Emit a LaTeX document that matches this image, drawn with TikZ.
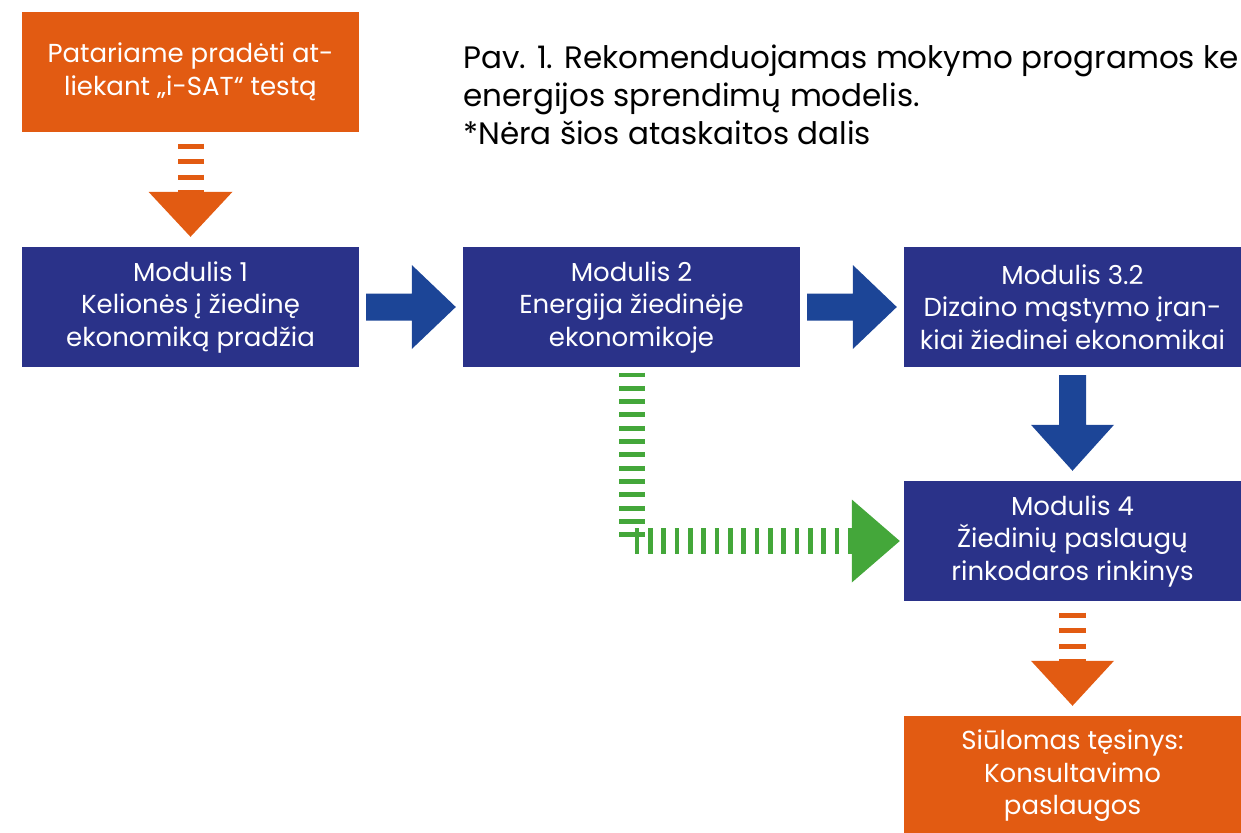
\documentclass[tikz,border=0pt]{standalone}
\usepackage{fontspec}
\setmainfont{Poppins}
\usetikzlibrary{calc}
\definecolor{orng}{HTML}{E25B12}
\definecolor{navy}{HTML}{2A3289}
\definecolor{arrblue}{HTML}{1C4597}
\definecolor{grn}{HTML}{44A73A}
\tikzset{
  box/.style={minimum width=337pt, minimum height=120pt, inner sep=0pt, align=center, text=white,
    font=\fontsize{26}{32.5}\selectfont},
  modbox/.style={box, fill=navy},
  obox/.style={box, fill=orng},
  barrow/.style={fill=arrblue},
}
\newcommand\blockR[2]{\fill[barrow] ($(#1)+(0,-13.5)$) -- ($(#2)+(-44,-13.5)$) -- ($(#2)+(-44,-42)$) -- (#2) -- ($(#2)+(-44,42)$) -- ($(#2)+(-44,13.5)$) -- ($(#1)+(0,13.5)$) -- cycle;}
\begin{document}
\begin{tikzpicture}[x=1pt,y=-1pt]
\useasboundingbox (0,0) rectangle (1241,832);
\clip (0,0) rectangle (1241,832);
\node[obox] (start) at (190.5,72) {Patariame pradėti at-\\liekant „i-SAT“ testą};
\node[modbox] (m1) at (190.5,307) {Modulis 1\\Kelionės į žiedinę\\ekonomiką pradžia};
\node[modbox] (m2) at (631.5,307) {Modulis 2\\Energija žiedinėje\\ekonomikoje};
\node[modbox] (m3) at (1072.5,307) {Modulis 3.2\\Dizaino mąstymo įran-\\kiai žiedinei ekonomikai};
\node[modbox] (m4) at (1072.5,541) {Modulis 4\\Žiedinių paslaugų\\rinkodaros rinkinys};
\node[obox] (cont) at (1072.5,776) {Siūlomas tęsinys:\\Konsultavimo\\paslaugos};
\node[anchor=north west, align=left, inner sep=0pt, font=\fontsize{31}{38}\selectfont] (title) at (463,45)
  {Pav. 1. Rekomenduojamas mokymo programos ke\\energijos sprendimų modelis.\\*Nėra šios ataskaitos dalis};
% blue right arrows
\coordinate (a1s) at ($(m1.east)+(7,0)$);
\coordinate (a1e) at ($(m2.west)+(-7,0)$);
\blockR{a1s}{a1e}
\coordinate (a2s) at ($(m2.east)+(7,0)$);
\coordinate (a2e) at ($(m3.west)+(-7,0)$);
\blockR{a2s}{a2e}
% blue down arrow
\coordinate (a3s) at ($(m3.south)+(0,8)$);
\coordinate (a3e) at ($(m4.north)+(0,-10)$);
\fill[barrow] ($(a3s)+(-13.5,0)$) -- ($(a3e)+(-13.5,-46)$) -- ($(a3e)+(-41.5,-46)$) -- (a3e) -- ($(a3e)+(41.5,-46)$) -- ($(a3e)+(13.5,-46)$) -- ($(a3s)+(13.5,0)$) -- cycle;
% orange dashed arrows
\coordinate (o1s) at ($(start.south)+(0,11.5)$);
\coordinate (o1e) at ($(m1.north)+(0,-10)$);
\draw[orng, line width=26pt, dash pattern=on 5 off 10.5] (o1s) -- ($(o1e)+(0,-44)$);
\fill[orng] ($(o1e)+(-42,-45)$) -- (o1e) -- ($(o1e)+(42,-45)$) -- cycle;
\coordinate (o2s) at ($(m4.south)+(0,11.5)$);
\coordinate (o2e) at ($(cont.north)+(0,-10)$);
\draw[orng, line width=27pt, dash pattern=on 5 off 10.5] (o2s) -- ($(o2e)+(0,-44)$);
\fill[orng] ($(o2e)+(-41.5,-45)$) -- (o2e) -- ($(o2e)+(41.5,-45)$) -- cycle;
% green dashed connector
\coordinate (g1) at ($(m2.south)+(0,5.3)$);
\coordinate (gc) at ($(m2.south |- m4.west)$);
\coordinate (ge) at ($(m4.west)+(-4,0)$);
\draw[grn, line width=26pt, dash pattern=on 4.7 off 8.63] (g1) -- ($(gc)+(0,-1)$);
\draw[grn, line width=26pt, dash pattern=on 4.7 off 8.63] ($(gc)+(3.2,0)$) -- ($(ge)+(-48,0)$);
\fill[grn] ($(ge)+(-48,-41.5)$) -- (ge) -- ($(ge)+(-48,41.5)$) -- cycle;
\end{tikzpicture}
\end{document}
